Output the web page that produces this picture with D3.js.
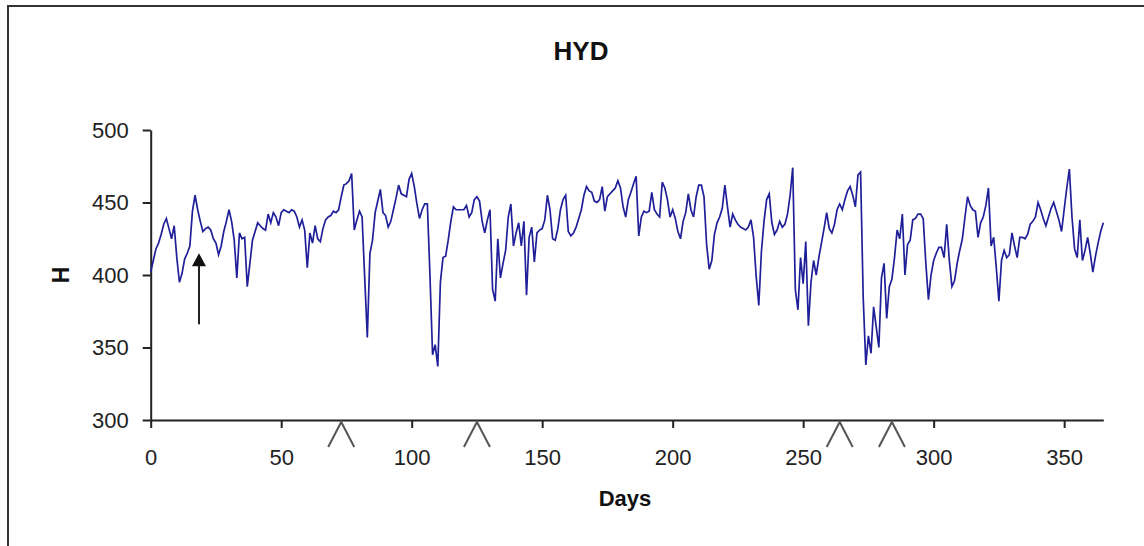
<!DOCTYPE html>
<html>
<head>
<meta charset="utf-8">
<script src="https://cdn.jsdelivr.net/npm/d3@7"></script>
<style>
  body { margin: 0; background: #fff; }
  text { font-family: "Liberation Sans", Arial, sans-serif; }
</style>
</head>
<body>
<div id="chart"></div>
<script>
// daily H values, day 0 .. 365
const hValues = [
  402, 410, 418, 422, 428, 435, 439, 432, 425, 434,
  412, 395, 401, 411, 415, 420, 444, 455, 445, 437,
  430, 432, 433, 431, 425, 422, 414, 420, 430, 437,
  445, 437, 424, 398, 429, 425, 426, 392, 408, 424,
  430, 436, 434, 432, 431, 442, 436, 443, 440, 434,
  443, 445, 444, 443, 445, 444, 440, 433, 438, 431,
  405, 429, 422, 434, 425, 423, 432, 438, 440, 441,
  444, 443, 445, 454, 462, 463, 465, 470, 431, 438,
  444, 440, 398, 357, 415, 424, 443, 451, 459, 443,
  441, 433, 437, 445, 453, 462, 456, 455, 454, 466,
  470, 461, 449, 439, 445, 449, 449, 400, 345, 352,
  337, 395, 412, 413, 424, 437, 447, 445, 445, 445,
  445, 448, 440, 443, 452, 454, 451, 437, 429, 438,
  445, 390, 382, 425, 398, 408, 417, 440, 449, 420,
  429, 436, 420, 437, 386, 426, 433, 409, 429, 431,
  432, 438, 455, 445, 425, 424, 432, 445, 452, 455,
  430, 427, 429, 433, 439, 445, 455, 461, 458, 457,
  451, 450, 452, 461, 444, 454, 456, 458, 460, 465,
  460, 447, 440, 452, 457, 463, 468, 427, 440, 444,
  443, 444, 457, 445, 442, 440, 464, 460, 452, 440,
  445, 439, 430, 425, 437, 443, 456, 445, 440, 454,
  462, 462, 454, 421, 404, 410, 428, 436, 440, 446,
  462, 447, 433, 442, 438, 435, 433, 432, 431, 433,
  438, 426, 399, 379, 416, 437, 452, 456, 436, 428,
  431, 437, 433, 435, 442, 455, 474, 390, 376, 412,
  394, 423, 365, 395, 410, 400, 412, 422, 432, 443,
  432, 429, 435, 445, 449, 445, 452, 458, 461, 455,
  447, 469, 471, 385, 338, 358, 346, 378, 364, 350,
  398, 408, 370, 392, 397, 412, 431, 425, 442, 400,
  421, 424, 438, 439, 442, 442, 439, 408, 383, 400,
  410, 415, 419, 419, 412, 435, 410, 392, 396, 408,
  417, 425, 440, 454, 448, 445, 444, 426, 436, 440,
  448, 460, 420, 426, 405, 382, 410, 417, 412, 414,
  429, 420, 412, 426, 426, 425, 428, 435, 437, 440,
  450, 445, 439, 434, 440, 446, 450, 444, 438, 430,
  445, 460, 473, 440, 418, 412, 438, 410, 417, 426,
  415, 402, 413, 422, 430, 436
];
const days = hValues.map((v, i) => i);
const yTicks = [300, 350, 400, 450, 500];
const xTicks = [0, 50, 100, 150, 200, 250, 300, 350];
// caret marks under the axis and the arrow (day, from, to)
const markerDays = [73, 125, 264, 284];
const arrowDay = 18.5;
const arrowFrom = 366;
const arrowTo = 415;

const W = 1144, H = 546;
const plot = { left: 150.7, right: 1103.3, top: 130, bottom: 420 };

const svg = d3.select("#chart")
    .append("svg")
    .attr("width", W)
    .attr("height", H);

svg.append("rect")
    .attr("width", W)
    .attr("height", H)
    .attr("fill", "#fff");

// outer frame (cut off right and bottom)
svg.append("rect")
    .attr("x", 8)
    .attr("y", 6)
    .attr("width", 1300)
    .attr("height", 700)
    .attr("fill", "none")
    .attr("stroke", "#333")
    .attr("stroke-width", 2);

const x = d3.scaleLinear().domain([0, 365]).range([plot.left, plot.right]);
const y = d3.scaleLinear().domain([300, 500]).range([plot.bottom, plot.top]);

// Y axis
const yAxis = svg.append("g")
    .attr("transform", `translate(${plot.left},0)`)
    .call(d3.axisLeft(y).tickValues(yTicks).tickSize(8).tickSizeOuter(0).tickPadding(14));

// X axis
const xAxis = svg.append("g")
    .attr("transform", `translate(0,${plot.bottom})`)
    .call(d3.axisBottom(x).tickValues(xTicks).tickSize(8).tickSizeOuter(0).tickPadding(21));

[yAxis, xAxis].forEach(g => {
    g.select(".domain").attr("stroke", "#222").attr("stroke-width", 2);
    g.selectAll(".tick line").attr("stroke", "#222").attr("stroke-width", 2);
    g.selectAll(".tick text")
        .attr("fill", "#222")
        .style("font-size", "22px")
        .style("font-family", "'Liberation Sans', Arial, sans-serif");
});

// line
const line = d3.line()
    .x((d, i) => x(days[i]))
    .y(d => y(d));

svg.append("path")
    .datum(hValues)
    .attr("fill", "none")
    .attr("stroke", "#1f1f99")
    .attr("stroke-width", 1.7)
    .attr("stroke-linejoin", "miter")
    .attr("d", line);

// caret markers
svg.selectAll(".caret")
    .data(markerDays)
    .enter()
    .append("path")
    .attr("class", "caret")
    .attr("fill", "none")
    .attr("stroke", "#555")
    .attr("stroke-width", 2)
    .attr("d", d => `M${x(d) - 13},${y(300) + 27} L${x(d)},${y(300) + 2} L${x(d) + 13},${y(300) + 27}`);

// arrow
svg.append("line")
    .attr("x1", x(arrowDay))
    .attr("x2", x(arrowDay))
    .attr("y1", y(arrowFrom))
    .attr("y2", y(arrowTo) + 10)
    .attr("stroke", "#222")
    .attr("stroke-width", 2);

svg.append("path")
    .attr("fill", "#111")
    .attr("d", `M${x(arrowDay)},${y(arrowTo)} L${x(arrowDay) - 7},${y(arrowTo) + 13} L${x(arrowDay) + 7},${y(arrowTo) + 13} Z`);

// Title
svg.append("text")
    .attr("x", 581)
    .attr("y", 60)
    .attr("text-anchor", "middle")
    .style("font-size", "26px")
    .style("font-weight", "bold")
    .attr("fill", "#111")
    .text("HYD");

// X label
svg.append("text")
    .attr("x", 625)
    .attr("y", 506)
    .attr("text-anchor", "middle")
    .style("font-size", "22px")
    .style("font-weight", "bold")
    .attr("fill", "#111")
    .text("Days");

// Y label
svg.append("text")
    .attr("transform", `translate(69,${y(400)}) rotate(-90)`)
    .attr("text-anchor", "middle")
    .style("font-size", "23px")
    .style("font-weight", "bold")
    .attr("fill", "#111")
    .text("H");
</script>
</body>
</html>
